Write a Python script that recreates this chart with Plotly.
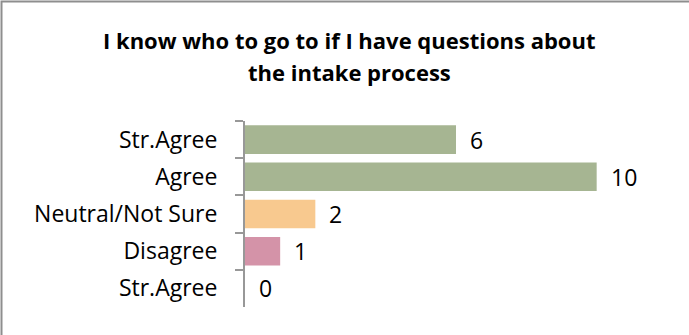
import plotly.graph_objects as go

# Survey responses
categories = ["Str.Agree", "Agree", "Neutral/Not Sure", "Disagree", "Str.Agree"]
counts = [6, 10, 2, 1, 0]
bar_colors = ["#A6B592", "#A6B592", "#F8C98F", "#D493A8", "#D493A8"]
title_lines = ["I know who to go to if I have questions about", "the intake process"]

W, H = 689, 335
ML, MR, MT, MB = 245, 22, 121, 28
PW, PH = W - ML - MR, H - MT - MB

# Category axis needs unique keys; pad repeated labels with zero-width spaces
seen = {}
keys = []
for c in categories:
    n = seen.get(c, 0)
    keys.append(c + "\u200b" * n)
    seen[c] = n + 1

FONT = "Open Sans"


def py(pix):
    """Pixel row from the top of the page -> paper y."""
    return (MT + PH - pix) / PH


def px(pix):
    """Pixel column from the left of the page -> paper x."""
    return (pix - ML) / PW


fig = go.Figure(
    go.Bar(
        x=counts,
        y=keys,
        orientation="h",
        marker=dict(color=bar_colors, line=dict(width=0)),
        hoverinfo="skip",
    )
)

# Value labels placed just past the end of each bar
for k, v in zip(keys, counts):
    fig.add_annotation(
        x=v, y=k, xref="x", yref="y",
        text=str(v), showarrow=False,
        xanchor="left", xshift=12,
        font=dict(family=FONT, size=23, color="#000000"),
    )

# Two-line bold title
for i, line in enumerate(title_lines):
    fig.add_annotation(
        x=px(349.5), y=py(40 + 32 * i), xref="paper", yref="paper",
        text=line, showarrow=False,
        xanchor="center", yanchor="middle",
        font=dict(family=FONT, size=22, color="#000000", weight="bold"),
    )

# Outer chart frame (extends past the right and bottom edges)
fig.add_shape(
    type="rect", xref="paper", yref="paper",
    x0=px(1.5), x1=px(W + 20),
    y0=py(H + 20), y1=py(1.5),
    line=dict(color="#8E8E8E", width=2), fillcolor="rgba(0,0,0,0)",
    layer="above",
)

fig.update_layout(
    width=W, height=H,
    margin=dict(l=ML, r=MR, t=MT, b=MB, pad=0),
    paper_bgcolor="white", plot_bgcolor="white",
    bargap=0.23,
    showlegend=False,
    xaxis=dict(visible=False, range=[0, 12], fixedrange=True),
    yaxis=dict(
        autorange="reversed",
        showline=True, linecolor="#989898", linewidth=2,
        ticks="outside", ticklen=8, tickwidth=2, tickcolor="#989898",
        tickson="boundaries",
        showgrid=False, zeroline=False,
        ticklabelstandoff=21,
        tickfont=dict(family=FONT, size=23, color="#000000"),
        fixedrange=True,
    ),
)

fig.write_html("out.html")
